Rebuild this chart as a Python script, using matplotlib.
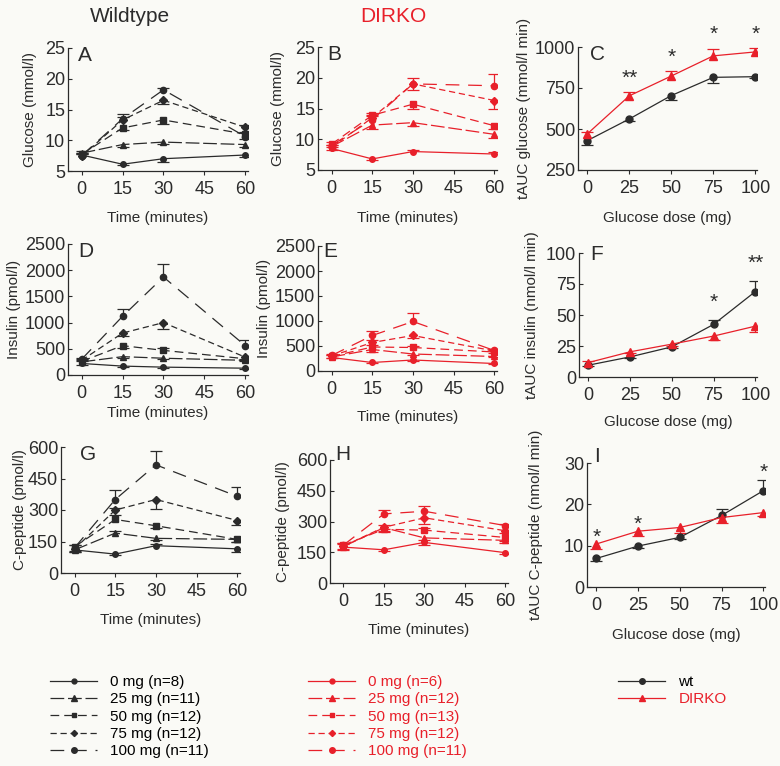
import numpy as np
import matplotlib
matplotlib.use('Agg')
import matplotlib.pyplot as plt
from matplotlib.lines import Line2D

plt.rcParams['font.family'] = ['Liberation Sans', 'DejaVu Sans']

W, H = 780, 766
BLACK = '#2b2b2b'
RED = '#e8202a'
BG = '#fafaf6'

# ---- data -------------------------------------------------------------
times = [0, 15, 30, 60]
doses = [0, 25, 50, 75, 100]
dose_labels = ['0 mg', '25 mg', '50 mg', '75 mg', '100 mg']
n_wt = [8, 11, 12, 12, 11]
n_ko = [6, 12, 13, 12, 11]

# glucose (mmol/l), wildtype / DIRKO; errors signed (+ up, - down)
glu_wt = [[7.6, 6.1, 7.0, 7.6],
          [7.9, 9.3, 9.7, 9.3],
          [7.7, 12.0, 13.3, 11.0],
          [7.4, 13.3, 16.5, 12.1],
          [7.5, 13.5, 18.2, 10.6]]
glu_wt_err = [[0.3, -0.2, -0.5, -0.4],
              [0.3, -0.4, -0.3, -0.4],
              [0.3, -0.3, -0.6, 0.4],
              [0.3, 0.5, -0.6, 0.3],
              [0.3, 0.8, 0.3, -0.4]]
glu_ko = [[8.5, 6.8, 8.0, 7.6],
          [8.8, 12.3, 12.7, 10.8],
          [9.2, 13.9, 15.7, 12.2],
          [8.7, 13.5, 19.0, 16.3],
          [9.0, 13.2, 19.0, 18.7]]
glu_ko_err = [[-0.3, -0.2, 0.3, 0.3],
              [0.3, -0.7, -0.5, -0.6],
              [0.3, 0.4, -0.8, -0.6],
              [0.3, 0.4, -1.0, -1.4],
              [-0.3, 0.6, 1.0, 1.9]]

# insulin (pmol/l)
ins_wt = [[220, 170, 150, 130],
          [250, 350, 320, 280],
          [260, 560, 470, 310],
          [280, 800, 1000, 340],
          [300, 1120, 1870, 560]]
ins_wt_err = [[-20, -15, -10, -10],
              [20, -20, -20, -20],
              [20, -40, 50, -20],
              [20, -60, -120, -30],
              [30, 140, 250, 100]]
ins_ko = [[270, 170, 220, 150],
          [280, 430, 340, 290],
          [290, 480, 470, 380],
          [300, 570, 710, 400],
          [310, 710, 990, 410]]
ins_ko_err = [[-20, -10, -15, -10],
              [-20, -50, -20, -20],
              [20, 30, 20, -20],
              [20, 50, -60, 20],
              [30, 80, 160, 30]]

# C-peptide (pmol/l)
cp_wt = [[110, 90, 130, 115],
         [110, 190, 165, 160],
         [125, 255, 225, 160],
         [115, 300, 350, 250],
         [120, 350, 515, 365]]
cp_wt_err = [[-10, -5, 10, -15],
             [-10, 10, -10, -10],
             [10, 20, -10, -10],
             [-10, 10, -45, -20],
             [15, 45, 65, 45]]
cp_ko = [[175, 162, 198, 148],
         [178, 270, 220, 208],
         [185, 262, 258, 222],
         [180, 272, 318, 255],
         [185, 337, 350, 280]]
cp_ko_err = [[-10, -5, -15, -5],
             [-15, -15, -10, -15],
             [10, -15, 10, -15],
             [10, 10, -30, -10],
             [10, 20, 25, 10]]

# total AUC vs dose
auc_glu_wt = [429, 561, 704, 815, 819]
auc_glu_wt_err = [-24, -15, -27, -33, -10]
auc_glu_ko = [470, 702, 823, 946, 970]
auc_glu_ko_err = [12, 22, 30, 44, 24]
auc_glu_sig = ['', '**', '*', '*', '*']

auc_ins_wt = [9.5, 16.2, 24.3, 42.4, 68.9]
auc_ins_wt_err = [-0.8, -0.8, -1.0, 3.5, 8.5]
auc_ins_ko = [11.6, 20.3, 26.5, 33.0, 41.0]
auc_ins_ko_err = [1.0, -1.0, -1.2, -3.3, -4.5]
auc_ins_sig = ['', '', '', '*', '**']

auc_cp_wt = [6.9, 9.9, 12.0, 17.3, 23.3]
auc_cp_wt_err = [-0.5, -0.4, -0.4, 1.6, 2.7]
auc_cp_ko = [10.4, 13.5, 14.4, 16.8, 18.0]
auc_cp_ko_err = [-1.1, -1.2, -1.4, -1.4, -0.8]
auc_cp_sig = ['*', '*', '', '', '*']

# ---- styles -----------------------------------------------------------
dashes = ['-', (0, (11, 3)), (0, (7, 4)), (0, (5, 3)), (0, (11, 7))]
markers = ['o', '^', 's', 'D', 'o']
msizes = [4, 4.5, 4, 3.6, 4.5]
LW = 0.9

fig = plt.figure(figsize=(W / 100, H / 100), dpi=100, facecolor=BG)


def px_axes(l, t, r, b):
    ax = fig.add_axes([l / W, 1 - b / H, (r - l) / W, (b - t) / H])
    ax.set_facecolor('none')
    for s in ['top', 'right']:
        ax.spines[s].set_visible(False)
    for s in ['left', 'bottom']:
        ax.spines[s].set_linewidth(0.9)
        ax.spines[s].set_color(BLACK)
    ax.tick_params(axis='y', direction='in', length=3, width=0.8, pad=2,
                   labelsize=13, colors=BLACK)
    ax.tick_params(axis='x', direction='out', length=3, width=0.8, pad=4,
                   labelsize=13, colors=BLACK)
    return ax


def add_err(ax, x, y, e, color):
    y = np.asarray(y, float)
    end = y + np.asarray(e, float)
    ax.vlines(x, y, end, colors=color, lw=LW, zorder=2)
    ax.plot(x, end, ls='none', marker='_', ms=8, mew=LW, color=color, zorder=2)


def time_panel(ax, series, errs, color, ylim, yticks, ylabel):
    for i in range(len(series)):
        ax.plot(times, series[i], color=color, lw=LW, ls=dashes[i],
                marker=markers[i], ms=msizes[i], mec=color, mfc=color, zorder=3)
        add_err(ax, times, series[i], errs[i], color)
    ax.set_xlim(-5, 61)
    ax.set_xticks([0, 15, 30, 45, 60])
    ax.set_ylim(*ylim)
    ax.set_yticks(yticks)
    ax.set_ylabel(ylabel, fontsize=11, color=BLACK)
    ax.set_xlabel('Time (minutes)', fontsize=11, color=BLACK)


def dose_panel(ax, wt, wt_err, ko, ko_err, sig, ylim, yticks, ylabel, star_off):
    ax.plot(doses, wt, color=BLACK, lw=LW, marker='o', ms=5, zorder=3)
    add_err(ax, doses, wt, wt_err, BLACK)
    ax.plot(doses, ko, color=RED, lw=LW, marker='^', ms=5.5, zorder=3)
    add_err(ax, doses, ko, ko_err, RED)
    tops = np.maximum(np.maximum(wt, np.add(wt, wt_err)),
                      np.maximum(ko, np.add(ko, ko_err)))
    for d, t, s in zip(doses, tops, sig):
        if s:
            ax.annotate(s, (d, t), xytext=(0, star_off), textcoords='offset points',
                        ha='center', va='baseline', fontsize=15, color=BLACK,
                        annotation_clip=False)
    ax.set_xlim(-5.5, 101)
    ax.set_xticks(doses)
    ax.set_ylim(*ylim)
    ax.set_yticks(yticks)
    ax.set_ylabel(ylabel, fontsize=11, color=BLACK)
    ax.set_xlabel('Glucose dose (mg)', fontsize=11, color=BLACK)


def place_labels(ax, box, ylab_x, xlab_y):
    # label centres given in figure pixels
    l, t, r, b = box
    ax.yaxis.set_label_coords(ylab_x / W, 1 - (t + b) / 2 / H, transform=fig.transFigure)
    ax.xaxis.set_label_coords((l + r) / 2 / W, 1 - xlab_y / H, transform=fig.transFigure)
    ax.yaxis.label.set_va('center')
    ax.xaxis.label.set_va('center')


def letter(x, y, s):
    fig.text(x / W, 1 - y / H, s, fontsize=15, color=BLACK, ha='left', va='top')


boxes = {
    'A': (68, 48, 248, 171), 'B': (318, 47, 497, 170), 'C': (578, 47, 757, 170),
    'D': (68, 244, 248, 375), 'E': (318, 246, 497, 371), 'F': (579, 253, 757, 377),
    'G': (61, 447, 240, 573), 'H': (330, 460, 508, 583), 'I': (587, 463, 765, 587),
}

axA = px_axes(*boxes['A'])
time_panel(axA, glu_wt, glu_wt_err, BLACK, (5, 25), [5, 10, 15, 20, 25], 'Glucose (mmol/l)')
place_labels(axA, boxes['A'], 30, 218)

axB = px_axes(*boxes['B'])
time_panel(axB, glu_ko, glu_ko_err, RED, (5, 25), [5, 10, 15, 20, 25], 'Glucose (mmol/l)')
place_labels(axB, boxes['B'], 278, 218)

axC = px_axes(*boxes['C'])
dose_panel(axC, auc_glu_wt, auc_glu_wt_err, auc_glu_ko, auc_glu_ko_err, auc_glu_sig,
           (250, 1000), [250, 500, 750, 1000], 'tAUC glucose (mmol/l min)', 6)
place_labels(axC, boxes['C'], 524, 218)

axD = px_axes(*boxes['D'])
time_panel(axD, ins_wt, ins_wt_err, BLACK, (0, 2500), range(0, 2501, 500), 'Insulin (pmol/l)')
place_labels(axD, boxes['D'], 14, 413)

axE = px_axes(*boxes['E'])
time_panel(axE, ins_ko, ins_ko_err, RED, (0, 2500), range(0, 2501, 500), 'Insulin (pmol/l)')
place_labels(axE, boxes['E'], 264, 417)

axF = px_axes(*boxes['F'])
dose_panel(axF, auc_ins_wt, auc_ins_wt_err, auc_ins_ko, auc_ins_ko_err, auc_ins_sig,
           (0, 100), [0, 25, 50, 75, 100], 'tAUC insulin (nmol/l min)', 9)
place_labels(axF, boxes['F'], 532, 422)

axG = px_axes(*boxes['G'])
time_panel(axG, cp_wt, cp_wt_err, BLACK, (0, 600), range(0, 601, 150), 'C-peptide (pmol/l)')
place_labels(axG, boxes['G'], 20, 620)

axH = px_axes(*boxes['H'])
time_panel(axH, cp_ko, cp_ko_err, RED, (0, 600), range(0, 601, 150), 'C-peptide (pmol/l)')
place_labels(axH, boxes['H'], 283, 630)

axI = px_axes(*boxes['I'])
dose_panel(axI, auc_cp_wt, auc_cp_wt_err, auc_cp_ko, auc_cp_ko_err, auc_cp_sig,
           (0, 30), [0, 10, 20, 30], 'tAUC C-peptide (nmol/l min)', 1)
place_labels(axI, boxes['I'], 536, 635)

for k, (x, y) in {'A': (78, 46), 'B': (327, 45), 'C': (590, 45), 'D': (78, 242),
                  'E': (323, 242), 'F': (590, 245), 'G': (80, 445), 'H': (335, 445),
                  'I': (594, 447)}.items():
    letter(x, y, k)

fig.text(130 / W, 1 - 16 / H, 'Wildtype', fontsize=15, color=BLACK, ha='center', va='center')
fig.text(393 / W, 1 - 16 / H, 'DIRKO', fontsize=15, color=RED, ha='center', va='center')

# ---- legends ----------------------------------------------------------
def series_handles(color):
    return [Line2D([], [], color=color, lw=LW, ls=dashes[i], marker=markers[i],
                   ms=msizes[i] - 0.5, mec=color, mfc=color) for i in range(5)]


leg_kw = dict(frameon=False, loc='upper left', borderaxespad=0, borderpad=0,
              handlelength=3.1, handletextpad=0.85, labelspacing=0.22, fontsize=11)

l1 = fig.legend(series_handles(BLACK),
                ['%s (n=%d)' % (d, n) for d, n in zip(dose_labels, n_wt)],
                bbox_to_anchor=(50 / W, 1 - 675 / H), **leg_kw)
l2 = fig.legend(series_handles(RED),
                ['%s (n=%d)' % (d, n) for d, n in zip(dose_labels, n_ko)],
                bbox_to_anchor=(308 / W, 1 - 675 / H), **leg_kw)
for t in l2.get_texts():
    t.set_color(RED)
l3 = fig.legend([Line2D([], [], color=BLACK, lw=LW, marker='o', ms=4),
                 Line2D([], [], color=RED, lw=LW, marker='^', ms=4.5)],
                ['wt', 'DIRKO'], bbox_to_anchor=(618 / W, 1 - 675 / H), **leg_kw)
l3.get_texts()[1].set_color(RED)

fig.savefig('out.png', dpi=100, facecolor=BG)
